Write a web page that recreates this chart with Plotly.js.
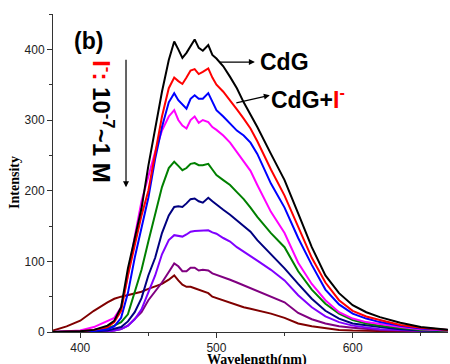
<!DOCTYPE html>
<html>
<head>
<meta charset="utf-8">
<script src="https://cdn.plot.ly/plotly-3.0.1.min.js"></script>
<style>html,body{margin:0;padding:0;background:#fff;}#chart{width:450px;height:364px;}</style>
</head>
<body>
<div id="chart"></div>
<script>
// Wavelength grid (nm)
const wavelength = [380,390,400,410,420,425,430,435,440,445,450,455,460,465,469,472,475,478,481,484,487,490,494,497,500,505,510,515,520,525,530,540,550,560,570,580,590,600,610,620,635,650,670];

// Spectra, from CdG alone (top) to highest I- concentration (bottom)
const sBlack   = [0,0.5,1,3,9,16,35,90,135,175,235,290,340,385,411,400,388,395,405,414,402,398,406,392,387,376,361,345,325,308,290,252,215,168,120,80,55,38,28,21,13,7,3];
const sRed     = [0,0.5,1,3,7,14,30,80,125,165,200,250,305,345,360,355,351,360,370,372,365,368,373,360,350,340,328,315,302,288,270,230,193,148,105,70,45,30,22,17,10,6,3];
const sBlue    = [0,0.3,0.5,1.5,4,8,20,55,105,150,190,245,290,325,338,328,322,316,330,335,330,330,338,325,314,305,295,285,278,268,252,210,176,133,95,60,39,26,19,14,9,5,3];
const sMagenta = [0,1,2,7,15,20,35,80,135,185,220,255,285,305,314,300,292,288,300,305,296,300,297,290,286,278,268,255,242,228,208,170,140,98,68,45,28,19,14,11,7,4,2];
const sGreen   = [0,0.3,1,2,5,9,14,25,55,88,128,165,205,232,241,235,229,232,238,239,236,236,238,230,222,215,208,198,188,176,163,140,120,86,60,40,26,17,12,9,6,3,1.5];
const sNavy    = [0,0,0.3,1,2,4,7,15,28,48,80,105,140,165,177,178,177,182,188,189,185,183,190,185,180,173,166,158,150,142,130,110,90,68,47,30,19,12,9,7,4,2,1];
const sViolet  = [0,0,0.2,0.5,1,2,4,9,18,32,55,80,110,130,137,136,135,138,142,143,143,143,144,141,139,133,128,120,114,108,101,88,73,52,35,22,14,9,6,4,3,2,1];
const sPurple  = [0,0,0.2,0.5,1,2,4,9,18,28,45,58,70,85,97,93,86,86,91,91,87,88,87,83,81,78,74,70,66,62,59,51,42,27,18,12,8,6,4,3,2,1,0.5];
const sDarkRed = [2,8,16,30,42,47,50,52,54,57,61,64,68,74,80,73,67,64,64,62,60,57,55,50,48,44,41,38,35,33,31,26,20,12,8,5,3,2,1.5,1,0.7,0.4,0.2];

const seriesList = [sDarkRed, sPurple, sViolet, sNavy, sGreen, sMagenta, sBlue, sRed, sBlack];
const seriesColors = ['#800000','#800080','#8000ff','#000080','#008000','#ff00ff','#0000ff','#ff0000','#000000'];

const xTickVals = [400,500,600];
const yTickVals = [0,100,200,300,400];

const traces = seriesList.map((s,i)=>({
  x: wavelength, y: s, type:'scatter', mode:'lines',
  line:{color:seriesColors[i], width:2}, hoverinfo:'skip', showlegend:false
}));

const axisCommon = {
  showgrid:false, zeroline:false, showline:true, linecolor:'#333', linewidth:1,
  ticks:'outside', ticklen:5, tickcolor:'#333', tickwidth:1,
  tickfont:{family:'Arial, Liberation Sans, sans-serif', size:12, color:'#222'}
};

const layout = {
  width:450, height:364,
  margin:{l:53, r:2, t:14, b:32, pad:0},
  paper_bgcolor:'#fff', plot_bgcolor:'#fff',
  xaxis: Object.assign({}, axisCommon, {
    range:[380,670], tickmode:'array', tickvals:xTickVals, ticktext:xTickVals.map(String),
    minor:{dtick:50, tick0:350, ticks:'outside', ticklen:3, tickcolor:'#333', showgrid:false}
  }),
  yaxis: Object.assign({}, axisCommon, {
    range:[0,450], tickmode:'array', tickvals:yTickVals, ticktext:yTickVals.map(String),
    minor:{dtick:50, tick0:0, ticks:'outside', ticklen:3, tickcolor:'#333', showgrid:false}
  }),
  annotations:[
    {xref:'paper', yref:'paper', x:0.516, y:-0.088, text:'<b>Wavelength(nm)</b>', showarrow:false,
     xanchor:'center', yanchor:'middle', font:{family:'Liberation Serif, Times New Roman, serif', size:14, color:'#000'}},
    {xref:'paper', yref:'paper', x:-0.096, y:0.469, text:'<b>Intensity</b>', showarrow:false, textangle:-90,
     xanchor:'center', yanchor:'middle', font:{family:'Liberation Serif, Times New Roman, serif', size:14, color:'#000'}},
    {xref:'x', yref:'y', x:405.7, y:412, text:'<b>(b)</b>', showarrow:false, xanchor:'center', yanchor:'middle',
     font:{family:'Arial, Liberation Sans, sans-serif', size:23, color:'#000'}},
    {xref:'x', yref:'y', x:416.7, y:297, text:"<b><span style='color:#ff0000'>I<sup>-</sup>:</span> 10<sup>-7</sup>~1 M</b>",
     showarrow:false, textangle:90, xanchor:'center', yanchor:'middle',
     font:{family:'Arial, Liberation Sans, sans-serif', size:24, color:'#000'}},
    {xref:'x', yref:'y', x:433.6, y:205, ax:0, ay:-129, text:'', showarrow:true, arrowhead:2, arrowsize:1, arrowwidth:1.2, arrowcolor:'#000'},
    {xref:'x', yref:'y', x:528.2, y:382, ax:-37, ay:0, text:'', showarrow:true, arrowhead:2, arrowsize:1, arrowwidth:1.2, arrowcolor:'#000'},
    {xref:'x', yref:'y', x:530.5, y:382, text:'<b>CdG</b>', showarrow:false, xanchor:'left', yanchor:'middle',
     font:{family:'Arial, Liberation Sans, sans-serif', size:23, color:'#000'}},
    {xref:'x', yref:'y', x:539.2, y:335, ax:-35, ay:8, text:'', showarrow:true, arrowhead:2, arrowsize:1, arrowwidth:1.2, arrowcolor:'#000'},
    {xref:'x', yref:'y', x:538.5, y:331, text:"<b>CdG+<span style='color:#ff0000'>I<sup>-</sup></span></b>", showarrow:false, xanchor:'left', yanchor:'middle',
     font:{family:'Arial, Liberation Sans, sans-serif', size:23, color:'#000'}}
  ]
};

Plotly.newPlot('chart', traces, layout, {displayModeBar:false, staticPlot:true});
</script>
</body>
</html>
